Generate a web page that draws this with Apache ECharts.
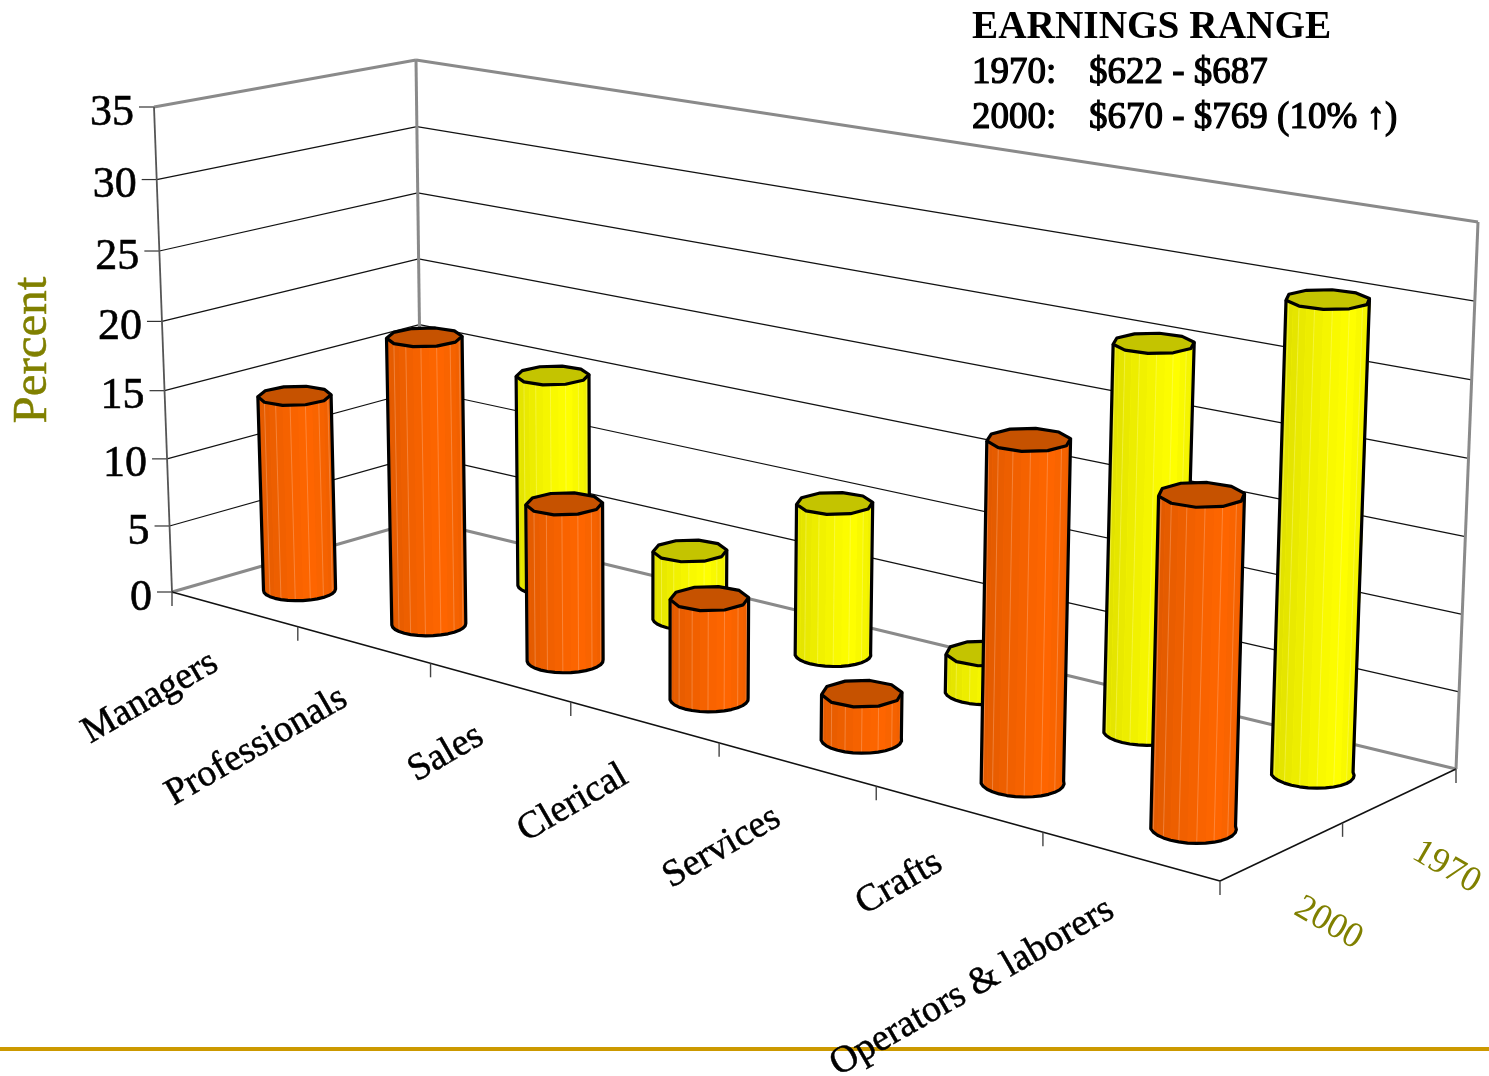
<!DOCTYPE html>
<html><head><meta charset="utf-8">
<style>html,body{margin:0;padding:0;background:#fff}#c{width:1489px;height:1076px}</style>
<script src="https://cdn.jsdelivr.net/npm/echarts@6/dist/echarts.min.js"></script>
</head><body><div id="c"></div>
<script>
// ---- data ----
const categories = ['Managers','Professionals','Sales','Clerical','Services','Crafts','Operators & laborers'];
const years = ['2000','1970'];
const share2000 = [14.4,20.6,11.1,6.95,3.1,22.0,20.8];
// Managers 1970 stands fully behind Professionals 2000, so it cannot be read from the picture.
const share1970 = [null,15.4,4.9,10.6,2.65,25.6,30.3];
const valueTicks = [0,5,10,15,20,25,30,35];
const axisName = 'Percent';
const noteTitle = 'EARNINGS RANGE';
const noteYears = ['1970:','2000:'];
const noteRanges = ['$622 - $687','$670 - $769 (10% ↑)'];

// ---- 3D box projection: (category, depth, value) -> page position ----
const W = 1489, H = 1076, FONT = '"Liberation Serif", serif', OLIVE = '#808000';
const MAXV = 35, NU = categories.length, NV = years.length;
function homography(A,B,C,D){
  const dx1=B[0]-C[0],dx2=D[0]-C[0],sx=A[0]-B[0]+C[0]-D[0];
  const dy1=B[1]-C[1],dy2=D[1]-C[1],sy=A[1]-B[1]+C[1]-D[1];
  const det=dx1*dy2-dx2*dy1;
  const g=(sx*dy2-dx2*sy)/det,h=(dx1*sy-sx*dy1)/det;
  const a=B[0]-A[0]+g*B[0],b=D[0]-A[0]+h*D[0],c=A[0];
  const d=B[1]-A[1]+g*B[1],e=D[1]-A[1]+h*D[1],f=A[1];
  return (s,t)=>{const q=g*s+h*t+1;return [(a*s+b*t+c)/q,(d*s+e*t+f)/q];};
}
const floorH = homography([172,592],[1220,881],[1456,769],[422,520]);
const ceilH  = homography([154,107],[1235,290],[1478,222],[416,60]);
function P(u,v,w){
  const s0=u/NU,t=v/NV;
  const a=floorH(s0+0.045*s0*(1-s0),t),b=ceilH(s0,t);
  const k0=w/MAXV,k=k0-(0.055-0.02*v)*k0*(1-k0);
  return [a[0]+(b[0]-a[0])*k,a[1]+(b[1]-a[1])*k];
}

// ---- cylinder drawing ----
const RX = 0.2, RY = 0.215, SIDES = 10, SUB = 3, Q = Math.SQRT1_2;
const PALETTE = {
  '2000':{base:[255,102,0],top:'#C65200'},
  '1970':{base:[255,255,0],top:'#C4C400'}
};
function shade(base,t){
  const peak=0.62;
  const f = t<peak ? 0.87+0.13*t/peak : 1-0.09*(t-peak)/(1-peak);
  return 'rgb('+base.map(c=>Math.round(c*f)).join(',')+')';
}
function ringPoint(u,v,w,phi){
  const a=phi*Math.PI/180,cx=RX*Math.cos(a)*Q,sy=RY*Math.sin(a)*Q;
  return P(u+cx+sy,v+cx-sy,w);
}
function cylinderRenderer(year,depth){
  const pal=PALETTE[year];
  return function(params,api){
    const i=api.value(0),val=api.value(1),u=i+0.5,v=depth;
    if(isNaN(val)) return null;
    const c=p=>api.coord(p);
    const step=360/SIDES,children=[];
    const front=[];
    for(let k=0;k<=SIDES/2*SUB;k++) front.push(180-k*step/SUB);
    const baseArc=front.map(f=>c(ringPoint(u,v,0,f)));
    const topArc=front.map(f=>c(ringPoint(u,v,val,f)));
    children.push({type:'polygon',shape:{points:topArc.slice().reverse().concat(baseArc)},
      style:{fill:shade(pal.base,0.5)}});
    for(let k=0;k<front.length-1;k++){
      const t=k/(front.length-2);
      children.push({type:'polygon',shape:{points:[topArc[k],topArc[k+1],baseArc[k+1],baseArc[k]]},
        style:{fill:shade(pal.base,t)}});
    }
    for(let k=1;k<front.length-1;k+=2){
      children.push({type:'line',shape:{x1:topArc[k][0],y1:topArc[k][1],x2:baseArc[k][0],y2:baseArc[k][1]},
        style:{stroke:'rgba(255,255,255,0.22)',lineWidth:1}});
    }
    const outline=[topArc[0]].concat(baseArc,[topArc[topArc.length-1]]);
    children.push({type:'polyline',shape:{points:outline},
      style:{fill:null,stroke:'#000',lineWidth:3.2,lineJoin:'round'}});
    const ring=[];
    for(let k=0;k<SIDES;k++) ring.push(c(ringPoint(u,v,val,k*step)));
    children.push({type:'polygon',shape:{points:ring},
      style:{fill:pal.top,stroke:'#000',lineWidth:3.2,lineJoin:'round'}});
    return {type:'group',children};
  };
}

// ---- walls, floor, ticks and axis labels ----
function renderFrame(params,api){
  const c=p=>api.coord(p),kids=[];
  const line=(a,b,stroke,lw)=>kids.push({type:'line',
    shape:{x1:c(a)[0],y1:c(a)[1],x2:c(b)[0],y2:c(b)[1]},style:{stroke,lineWidth:lw}});
  const GREY='#8a8a8a',INK='#111';
  valueTicks.forEach(t=>{
    if(t>0&&t<MAXV){
      line(P(0,0,t),P(0,NV,t),INK,1.2);
      line(P(0,NV,t),P(NU,NV,t),INK,1.2);
    }
    const a=P(0,0,t);
    line([a[0]-15,a[1]],a,'#333',1.2);
    kids.push({type:'text',x:c(a)[0]-20,y:c(a)[1]+6,
      style:{text:String(t),textAlign:'right',textVerticalAlign:'middle',font:'44px '+FONT,fill:'#000',stroke:'#000',lineWidth:0.6}});
  });
  line(P(0,0,0),P(0,NV,0),GREY,3);
  line(P(0,NV,0),P(NU,NV,0),GREY,3);
  line(P(0,NV,0),P(0,NV,MAXV),GREY,3);
  line(P(NU,NV,0),P(NU,NV,MAXV),GREY,3);
  line(P(0,0,MAXV),P(0,NV,MAXV),GREY,3);
  line(P(0,NV,MAXV),P(NU,NV,MAXV),GREY,3);
  line(P(0,0,0),P(0,0,MAXV),'#555',1.8);
  line(P(0,0,0),P(NU,0,0),INK,1.6);
  line(P(NU,0,0),P(NU,NV,0),INK,1.6);
  for(let i=0;i<=NU;i++){const a=P(i,0,0);line(a,[a[0],a[1]+14],'#444',1.4);}
  for(let j=1;j<=NV;j++){const a=P(NU,j,0);line(a,[a[0],a[1]+14],'#444',1.4);}
  categories.forEach((name,i)=>{
    const a=c(P(i+0.5,0,0));
    kids.push({type:'text',x:a[0]-19,y:a[1]+51,rotation:Math.PI/6,
      style:{text:name,textAlign:'right',textVerticalAlign:'middle',font:'38px '+FONT,fill:'#000',stroke:'#000',lineWidth:0.5}});
  });
  years.forEach((name,j)=>{
    const a=c(P(NU,j+0.5,0));
    kids.push({type:'text',x:a[0]+46,y:a[1]+72,rotation:-Math.PI/6,
      style:{text:name,textAlign:'center',textVerticalAlign:'middle',font:'36px '+FONT,fill:OLIVE}});
  });
  return {type:'group',children:kids};
}

const noteFont='37px '+FONT;
const noteStyle=t=>({text:t,textVerticalAlign:'middle',font:noteFont,fill:'#000',stroke:'#000',lineWidth:1.2});
const chart=echarts.init(document.getElementById('c'),null,{renderer:'canvas',width:W,height:H});
chart.setOption({
  animation:false,
  backgroundColor:'#fff',
  grid:{left:0,right:0,top:0,bottom:0},
  xAxis:{type:'value',min:0,max:W,show:false},
  yAxis:{type:'value',min:0,max:H,inverse:true,show:false},
  graphic:{elements:[
    {type:'rect',shape:{x:0,y:1047,width:W,height:4},style:{fill:'#CC9900'},silent:true},
    {type:'text',x:33,y:350,rotation:Math.PI/2,style:{text:axisName,textAlign:'center',textVerticalAlign:'middle',font:'49px '+FONT,fill:OLIVE,stroke:OLIVE,lineWidth:0.5}},
    {type:'text',x:972,y:28,style:{text:noteTitle,textVerticalAlign:'middle',font:'bold 39.3px '+FONT,fill:'#000'}},
    {type:'text',x:972,y:73,style:noteStyle(noteYears[0])},
    {type:'text',x:1089,y:73,style:noteStyle(noteRanges[0])},
    {type:'text',x:972,y:118,style:noteStyle(noteYears[1])},
    {type:'text',x:1089,y:118,style:noteStyle(noteRanges[1])}
  ]},
  series:[
    {type:'custom',name:'frame',clip:false,silent:true,z:1,data:[[0,0]],renderItem:renderFrame},
    {type:'custom',name:years[1],clip:false,z:2,data:share1970.map((v,i)=>[i,v]),
      encode:{x:0,y:1},renderItem:cylinderRenderer(years[1],1.5)},
    {type:'custom',name:years[0],clip:false,z:3,data:share2000.map((v,i)=>[i,v]),
      encode:{x:0,y:1},renderItem:cylinderRenderer(years[0],0.5)}
  ]
});
</script></body></html>
